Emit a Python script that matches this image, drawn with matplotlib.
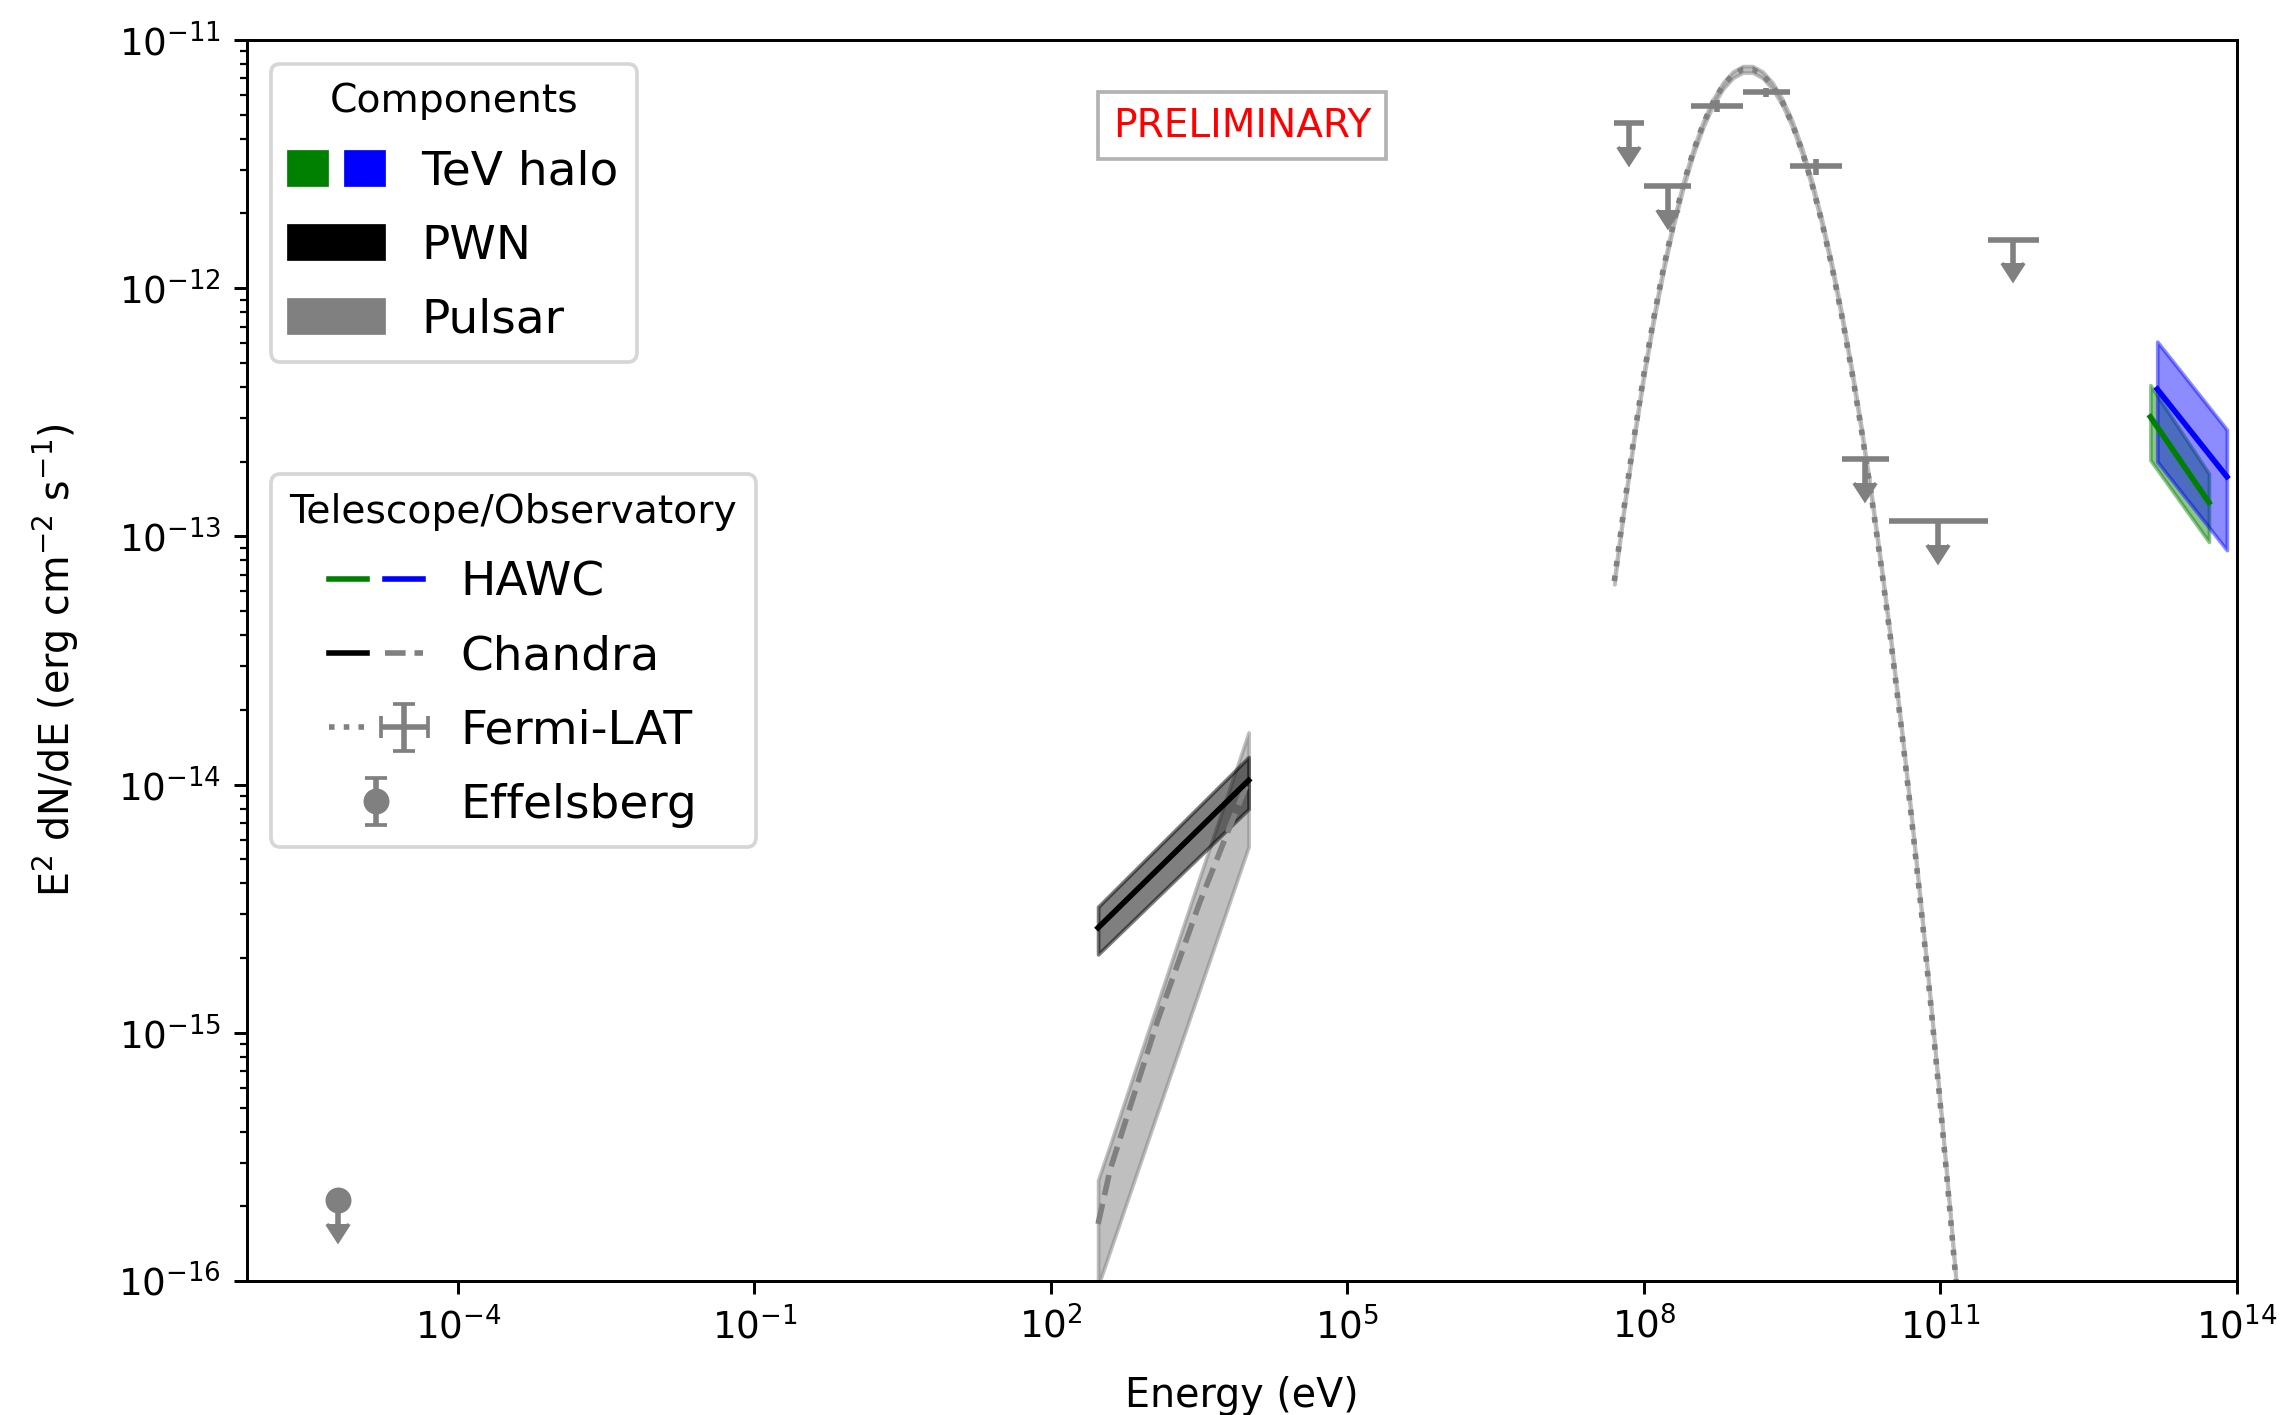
import numpy as np
import matplotlib
matplotlib.use("Agg")
import matplotlib.pyplot as plt
from matplotlib.patches import Patch
from matplotlib.lines import Line2D
from matplotlib.legend_handler import HandlerTuple

# ---- HAWC (TeV halo), two analyses ----
hawc_g_E = [1.33e13, 5.2e13]
hawc_g_F = [3.03e-13, 1.37e-13]
hawc_g_lo = [2.03e-13, 9.5e-14]
hawc_g_hi = [4.07e-13, 1.79e-13]

hawc_b_E = [1.56e13, 7.9e13]
hawc_b_F = [3.92e-13, 1.74e-13]
hawc_b_lo = [2.0e-13, 8.8e-14]
hawc_b_hi = [6.09e-13, 2.69e-13]

# ---- Chandra ----
pwn_E = [300, 1e4]
pwn_F = [2.65e-15, 1.04e-14]
pwn_lo = [2.07e-15, 7.98e-15]
pwn_hi = [3.22e-15, 1.29e-14]

psr_logE = [2.477, 2.6, 3.08, 3.5, 4.0]
psr_logF = [-15.77, -15.55, -14.95, -14.48, -13.98]
psr_logF_lo = [-16.02, -15.877, -15.319, -14.831, -14.25]
psr_logF_hi = [-15.594, -15.45, -14.88, -14.38, -13.79]

# ---- Fermi-LAT ----
fermi_E_lo = [5e7, 1e8, 3e8, 1e9, 3e9, 1e10, 3e10, 3e11]
fermi_E_hi = [1e8, 3e8, 1e9, 3e9, 1e10, 3e10, 3e11, 1e12]
fermi_F = [4.63e-12, 2.59e-12, 5.42e-12, 6.16e-12, 3.10e-12, 2.05e-13, 1.15e-13, 1.57e-12]
fermi_F_err = [0.93e-12, 0.52e-12, 0.3e-12, 0.25e-12, 0.23e-12, 0.41e-13, 0.23e-13, 0.31e-12]
fermi_ul = [True, True, False, False, False, True, True, True]

fermi_model_logE = [7.7, 7.8, 7.9, 8.0, 8.1, 8.2, 8.3, 8.4, 8.5, 8.6, 8.7, 8.8,
                    8.9, 9.0, 9.1, 9.2, 9.3, 9.4, 9.5, 9.6, 9.7, 9.8, 9.9, 10.0,
                    10.1, 10.2, 10.3, 10.4, 10.5, 10.6, 10.7, 10.8, 10.9, 11.0,
                    11.1, 11.2]
fermi_model_logF = [-13.180, -12.880, -12.600, -12.345, -12.118, -11.915, -11.736,
                    -11.580, -11.448, -11.338, -11.250, -11.184, -11.140, -11.118,
                    -11.118, -11.140, -11.184, -11.250, -11.338, -11.448, -11.580,
                    -11.734, -11.910, -12.108, -12.328, -12.570, -12.834, -13.120,
                    -13.428, -13.758, -14.110, -14.484, -14.880, -15.298, -15.738,
                    -16.200]
fermi_model_err = 0.03

# ---- Effelsberg ----
eff_E = [6.1e-6]
eff_F = [2.12e-16]
eff_err = [0.42e-16]

fig = plt.figure(figsize=(2285 / 267, 1415 / 267), dpi=267)
ax = fig.add_axes([247 / 2285, 1 - 1281 / 1415, 1990 / 2285, 1241 / 1415])
ax.set_xscale("log")
ax.set_yscale("log")

# Chandra pulsar + PWN
psr_E = 10 ** np.array(psr_logE)
ax.fill_between(psr_E, 10 ** np.array(psr_logF_lo), 10 ** np.array(psr_logF_hi),
                color="gray", alpha=0.5)
ax.plot(psr_E, 10 ** np.array(psr_logF), "--", color="gray")
ax.fill_between(pwn_E, pwn_lo, pwn_hi, color="black", alpha=0.5)
ax.plot(pwn_E, pwn_F, "-", color="black")

# Fermi model
fm_E = 10 ** np.array(fermi_model_logE)
fm_F = 10 ** np.array(fermi_model_logF)
ax.fill_between(fm_E, fm_F * (1 - fermi_model_err), fm_F * (1 + fermi_model_err),
                color="gray", alpha=0.5)
ax.plot(fm_E, fm_F, ":", color="gray")

# Fermi points
E_lo = np.array(fermi_E_lo)
E_hi = np.array(fermi_E_hi)
E_c = np.sqrt(E_lo * E_hi)
eb = ax.errorbar(E_c, fermi_F, xerr=[E_c - E_lo, E_hi - E_c], yerr=fermi_F_err,
                 uplims=fermi_ul, fmt="none", color="gray")

# Effelsberg
ef = ax.errorbar(eff_E, eff_F, yerr=eff_err, uplims=True, fmt="o", color="gray")

# HAWC
ax.fill_between(hawc_g_E, hawc_g_lo, hawc_g_hi, color="green", alpha=0.45)
ax.fill_between(hawc_b_E, hawc_b_lo, hawc_b_hi, color="blue", alpha=0.45)
ax.plot(hawc_g_E, hawc_g_F, color="green")
ax.plot(hawc_b_E, hawc_b_F, color="blue")

ax.set_xlim(7.35e-7, 1e14)
ax.set_ylim(1e-16, 1e-11)
ax.set_xticks([1e-4, 1e-1, 1e2, 1e5, 1e8, 1e11, 1e14])
ax.set_xlabel("Energy (eV)", fontsize=10.7, labelpad=8)
ax.set_ylabel(r"E$^2$ dN/dE (erg cm$^{-2}$ s$^{-1}$)", fontsize=10.7, labelpad=10)

ax.text(0.5, 0.931, "PRELIMINARY", transform=ax.transAxes, color="red", fontsize=10.5,
        ha="center", va="center", bbox=dict(facecolor="white", edgecolor="0.7"))

hmap = {tuple: HandlerTuple(ndivide=None)}
comp_handles = [(Patch(color="green"), Patch(color="blue")),
                Patch(color="black"), Patch(color="gray")]
leg1 = ax.legend(comp_handles, ["TeV halo", "PWN", "Pulsar"], title="Components",
                 loc="upper left", fontsize=12.7, title_fontsize=10.6,
                 labelspacing=0.62, handler_map=hmap)
ax.add_artist(leg1)

tel_handles = [(Line2D([], [], color="green"), Line2D([], [], color="blue")),
               (Line2D([], [], color="black"), Line2D([], [], color="gray", ls="--")),
               (Line2D([], [], color="gray", ls=":"), eb),
               ef]
ax.legend(tel_handles, ["HAWC", "Chandra", "Fermi-LAT", "Effelsberg"],
          title="Telescope/Observatory", loc="center left", fontsize=12.7,
          title_fontsize=10.6, labelspacing=0.62, handler_map=hmap)

fig.savefig("out.png", dpi=267)
